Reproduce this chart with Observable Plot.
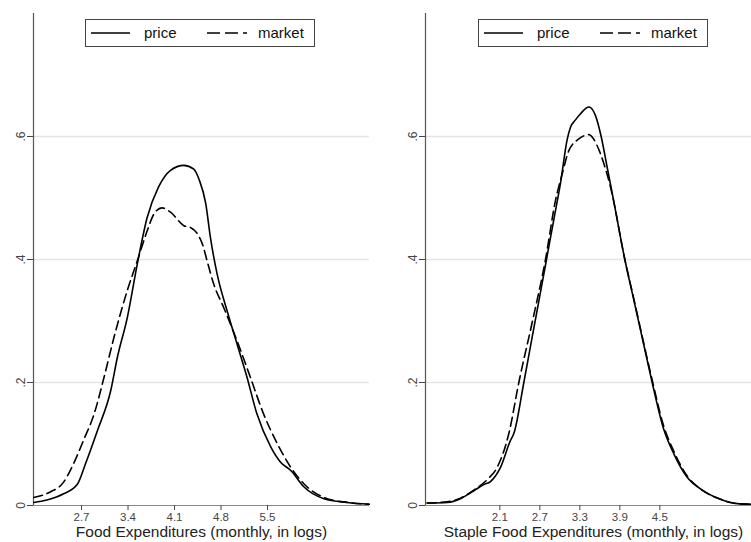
<!DOCTYPE html>
<html><head><meta charset="utf-8">
<script src="https://cdn.jsdelivr.net/npm/d3@7"></script>
<script src="https://cdn.jsdelivr.net/npm/@observablehq/plot@0.6"></script>
<style>
body{margin:0;background:#fff;font-family:"Liberation Sans",Arial,sans-serif}
#wrap{position:relative;width:751px;height:542px;overflow:hidden;background:#fff}
.panel{position:absolute;top:0}
.legend{position:absolute;top:19px}
</style></head><body><div id="wrap"></div>
<script>
// ---- data ----
const seriesNames = ["price", "market"];
const yTicks = [0, 0.2, 0.4, 0.6];
const yDomain = [0, 0.8];

const foodTicks = [2.7, 3.4, 4.1, 4.8, 5.5];
const foodDomain = [1.977, 7.035];
const foodTitle = "Food Expenditures (monthly, in logs)";
const foodPriceX = [1.98,2.18,2.43,2.64,2.76,2.94,3.14,3.24,3.39,3.54,3.69,3.86,4.04,4.24,4.39,4.47,4.57,4.64,4.74,4.89,5.04,5.19,5.34,5.55,5.70,5.85,6.05,6.35,6.70,7.03];
const foodPriceY = [0.005,0.009,0.019,0.035,0.068,0.122,0.187,0.241,0.306,0.393,0.469,0.518,0.545,0.553,0.547,0.530,0.491,0.436,0.377,0.317,0.263,0.209,0.149,0.095,0.070,0.057,0.030,0.011,0.005,0.002];
const foodMarketX = [1.98,2.23,2.43,2.58,2.73,2.89,3.04,3.19,3.39,3.54,3.69,3.79,3.91,4.04,4.24,4.34,4.45,4.52,4.59,4.69,4.84,5.04,5.24,5.44,5.65,5.85,6.05,6.35,6.70,7.03];
const foodMarketY = [0.013,0.022,0.038,0.068,0.106,0.149,0.209,0.274,0.350,0.398,0.447,0.474,0.484,0.477,0.455,0.452,0.441,0.425,0.398,0.360,0.322,0.268,0.209,0.149,0.100,0.062,0.035,0.013,0.005,0.002];

const stapleTicks = [2.1, 2.7, 3.3, 3.9, 4.5];
const stapleDomain = [0.985, 5.875];
const stapleTitle = "Staple Food Expenditures (monthly, in logs)";
const staplePriceX = [1.01,1.31,1.51,1.71,1.86,1.96,2.11,2.26,2.31,2.46,2.56,2.71,2.80,2.91,3.01,3.11,3.16,3.235,3.31,3.435,3.535,3.62,3.71,3.81,3.975,4.11,4.26,4.385,4.55,4.71,4.91,5.11,5.41,5.66,5.875];
const staplePriceY = [0.004,0.005,0.011,0.024,0.034,0.039,0.062,0.106,0.117,0.200,0.259,0.347,0.400,0.465,0.524,0.595,0.615,0.627,0.637,0.648,0.634,0.600,0.550,0.494,0.400,0.334,0.261,0.200,0.127,0.084,0.046,0.027,0.010,0.003,0.002];
const stapleMarketX = [1.01,1.31,1.51,1.71,1.91,2.06,2.235,2.385,2.59,2.785,2.935,3.035,3.135,3.285,3.435,3.56,3.66,3.76,3.975,4.11,4.26,4.385,4.55,4.71,4.91,5.11,5.41,5.66,5.875];
const stapleMarketY = [0.004,0.006,0.012,0.025,0.042,0.062,0.117,0.200,0.300,0.400,0.496,0.539,0.577,0.596,0.603,0.585,0.556,0.518,0.400,0.336,0.263,0.204,0.132,0.088,0.048,0.027,0.010,0.003,0.002];

// ---- drawing ----
const FONT = '"Liberation Sans", Arial, sans-serif';
const fmtY = d => d === 0 ? "0" : d.toFixed(1).replace(/^0/, "");
const zip = (xs, ys) => xs.map((x, i) => ({x, y: ys[i]}));

function panel({left, width, marginLeft, marginRight, domain, ticks, title, titleDx, priceX, priceY, marketX, marketY, legendLeft}) {
  const plot = Plot.plot({
    width, height: 542,
    marginTop: 13, marginBottom: 37, marginLeft, marginRight,
    x: {domain, ticks},
    y: {domain: yDomain},
    style: {fontFamily: FONT, background: "white", overflow: "visible"},
    marks: [
      Plot.gridY(yTicks.filter(d => d > 0), {stroke: "#e4e4e4", strokeOpacity: 1, strokeWidth: 1.5}),
      Plot.ruleY([0], {stroke: "#888", strokeWidth: 1.2}),
      Plot.ruleX([domain[0]], {stroke: "#555", strokeWidth: 1.2}),
      Plot.line(zip(marketX, marketY), {x: "x", y: "y", curve: "monotone-x", stroke: "black", strokeWidth: 1.6, strokeDasharray: "9,5"}),
      Plot.line(zip(priceX, priceY), {x: "x", y: "y", curve: "monotone-x", stroke: "black", strokeWidth: 1.6}),
      Plot.axisY(yTicks, {tickSize: 6, tickPadding: 3, tickRotate: -90, tickFormat: fmtY, fontSize: 12, color: "#444", label: null}),
      Plot.axisX(ticks, {tickSize: 5, tickPadding: 2, fontSize: 11.5, color: "#444", label: null, tickFormat: d => d.toFixed(1)}),
      Plot.text([title], {frameAnchor: "bottom", dy: 31, dx: titleDx, text: d => d, fontSize: 15.5, fill: "#222"})
    ]
  });
  const div = document.createElement("div");
  div.className = "panel";
  div.style.left = left + "px";
  div.appendChild(plot);
  document.getElementById("wrap").appendChild(div);

  // legend
  const ns = "http://www.w3.org/2000/svg";
  const leg = document.createElementNS(ns, "svg");
  leg.setAttribute("width", 230); leg.setAttribute("height", 28);
  leg.setAttribute("class", "legend");
  leg.style.left = legendLeft + "px";
  leg.style.fontFamily = FONT;
  const items = [
    {x1: 6, x2: 45, tx: 59, dash: null, name: seriesNames[0]},
    {x1: 122, x2: 162, tx: 173, dash: "13,5", name: seriesNames[1]}
  ];
  leg.innerHTML = `<rect x="0.5" y="0.5" width="229" height="27" fill="white" stroke="#444" stroke-width="1"/>` +
    items.map(it => `<line x1="${it.x1}" x2="${it.x2}" y1="14" y2="14" stroke="black" stroke-width="1.6" ${it.dash ? `stroke-dasharray="${it.dash}"` : ""}/>` +
      `<text x="${it.tx}" y="19" font-size="15" fill="#111">${it.name}</text>`).join("");
  document.getElementById("wrap").appendChild(leg);
}

panel({left: 0, width: 380, marginLeft: 33, marginRight: 11, domain: foodDomain, ticks: foodTicks, title: foodTitle, titleDx: 0,
  priceX: foodPriceX, priceY: foodPriceY, marketX: foodMarketX, marketY: foodMarketY, legendLeft: 85});
panel({left: 380, width: 371, marginLeft: 45, marginRight: 0, domain: stapleDomain, ticks: stapleTicks, title: stapleTitle, titleDx: 5,
  priceX: staplePriceX, priceY: staplePriceY, marketX: stapleMarketX, marketY: stapleMarketY, legendLeft: 478});
</script></body></html>
